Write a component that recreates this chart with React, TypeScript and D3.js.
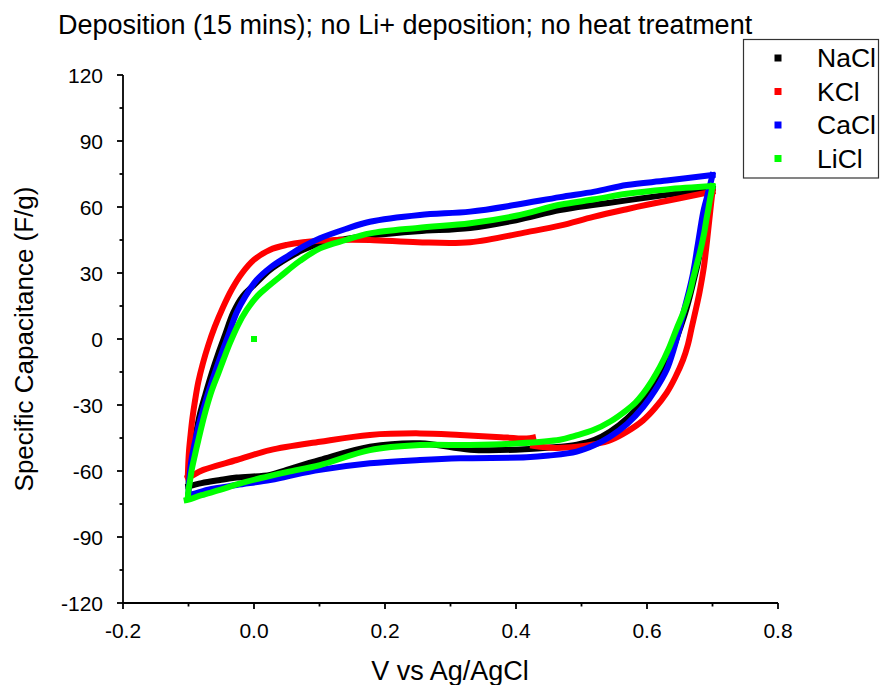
import React from "react";
import * as d3 from "d3";

type Pt = [number, number];

// ---- Data (V vs Ag/AgCl, Specific Capacitance F/g) ----
const naclUpper: Pt[] = [
  [-0.1, -67], [-0.0995, -63], [-0.098, -58], [-0.095, -52], [-0.0927, -49], [-0.088, -42],
  [-0.0824, -34], [-0.074, -25], [-0.0646, -15.6], [-0.055, -7], [-0.044, 2], [-0.0316, 12],
  [-0.017, 19.5], [0, 24.5], [0.0244, 31.4], [0.05, 36.5], [0.075, 40.5], [0.1008, 43.5],
  [0.14, 45.5], [0.177, 47], [0.25, 49], [0.33, 50.5], [0.4, 54], [0.467, 58.6], [0.52, 61],
  [0.569, 63], [0.63, 65.5], [0.7, 68.5],
];
const naclLower: Pt[] = [
  [0.7, 68.5], [0.698, 66], [0.696, 63], [0.6935, 59], [0.691, 55], [0.688, 50], [0.685, 45],
  [0.6815, 40], [0.678, 35], [0.6745, 30.5], [0.67, 25], [0.665, 19], [0.658, 11.5],
  [0.6495, 4], [0.639, -5], [0.626, -13.5], [0.611, -21], [0.5944, -28], [0.57, -36],
  [0.544, -42], [0.52, -45.8], [0.493, -48], [0.467, -49], [0.4, -50.3], [0.33, -50.3],
  [0.2534, -47.4], [0.177, -49], [0.1008, -55], [0.05, -59.5], [0.0244, -61.8],
  [-0.0265, -63], [-0.052, -64.1], [-0.08, -65.5], [-0.1, -67],
];

const kclUpper: Pt[] = [
  [-0.101, -62], [-0.0995, -52], [-0.097, -44], [-0.094, -36], [-0.09, -28], [-0.085, -19.5],
  [-0.078, -11], [-0.07, -3], [-0.06, 5.5], [-0.048, 14], [-0.034, 22.5], [-0.018, 30],
  [0, 36], [0.024, 40.5], [0.05, 42.8], [0.075, 44], [0.127, 45], [0.177, 45], [0.25, 44],
  [0.33, 44], [0.417, 48.6], [0.467, 51.5], [0.518, 55.5], [0.569, 59], [0.6, 61],
  [0.65, 64], [0.7, 67],
];
const kclLowerA: Pt[] = [
  [0.7, 67], [0.698, 62], [0.696, 56.5], [0.694, 51], [0.692, 45.5], [0.6895, 39],
  [0.687, 33], [0.684, 27.5], [0.68, 21], [0.675, 14], [0.6685, 5.5], [0.6625, -2.5],
  [0.655, -9.5], [0.643, -17.5], [0.63, -24.5], [0.612, -31.5], [0.594, -37], [0.57, -42],
  [0.544, -46], [0.52, -47.8], [0.493, -49], [0.46, -49.5], [0.426, -48.5],
];
const kclLowerB: Pt[] = [
  [0.426, -44.8], [0.4163, -45.2], [0.37, -44.5], [0.3145, -43.6], [0.2534, -42.9],
  [0.177, -43.6], [0.1008, -46.7], [0.0244, -50.5], [-0.0265, -55], [-0.0774, -59.5],
  [-0.0977, -62.6], [-0.101, -63],
];

const caclUpper: Pt[] = [
  [-0.1, -71], [-0.0993, -66], [-0.098, -61], [-0.095, -54], [-0.091, -48], [-0.085, -40],
  [-0.079, -33.5], [-0.07, -24.5], [-0.06, -15.5], [-0.05, -7], [-0.04, 1], [-0.0265, 12],
  [-0.013, 19.5], [0.004, 26.8], [0.025, 32.5], [0.05, 37.4], [0.075, 42], [0.1008, 45.8],
  [0.14, 50], [0.177, 53.3], [0.2534, 56.4], [0.33, 57.9], [0.4, 61], [0.467, 64.5],
  [0.52, 67], [0.569, 70], [0.63, 72], [0.7, 74.5],
];
const caclLower: Pt[] = [
  [0.7, 74.5], [0.698, 72], [0.6962, 70], [0.6935, 67], [0.6911, 63.9], [0.6885, 61],
  [0.686, 57.9], [0.683, 53], [0.6795, 46.5], [0.6765, 41], [0.6733, 35], [0.669, 28],
  [0.6635, 21], [0.657, 13.5], [0.6504, 5.6], [0.641, -4.5], [0.63, -14], [0.613, -23],
  [0.5944, -30.8], [0.57, -38.5], [0.5435, -44.4], [0.52, -48.2], [0.4927, -51.2],
  [0.45, -53], [0.4163, -53.8], [0.3145, -54.2], [0.2534, -55], [0.177, -56.5],
  [0.1008, -59.5], [0.05, -62.5], [0.0244, -64.1], [-0.0265, -66.4], [-0.07, -68.5],
  [-0.0977, -70.9], [-0.1, -71],
];

const liclUpper: Pt[] = [
  [-0.101, -72], [-0.1, -68.6], [-0.098, -65], [-0.0951, -59.5], [-0.09, -52.5],
  [-0.085, -46], [-0.079, -38.5], [-0.0723, -31], [-0.064, -23], [-0.0545, -15.6],
  [-0.0468, -9.5], [-0.037, -2], [-0.025, 6], [-0.0112, 13.2], [0.005, 19.5], [0.02, 23.5],
  [0.0397, 28.3], [0.07, 35.5], [0.1008, 41.2], [0.14, 45], [0.177, 48], [0.25, 50.5],
  [0.33, 52.6], [0.4, 56], [0.467, 61], [0.52, 63.5], [0.569, 66], [0.63, 68], [0.7, 69.5],
];
const liclLower: Pt[] = [
  [0.7, 69.5], [0.6985, 67], [0.6962, 63.5], [0.6936, 59], [0.6905, 54], [0.6875, 48.5],
  [0.684, 43.5], [0.6805, 39], [0.677, 35], [0.6735, 31], [0.67, 27], [0.6656, 21.5],
  [0.656, 12.5], [0.645, 4.5], [0.633, -4.5], [0.62, -12.6], [0.6075, -19], [0.5944, -24.7],
  [0.582, -29], [0.569, -32.3], [0.544, -37.5], [0.518, -41.4], [0.49, -44], [0.467, -45.8],
  [0.4, -47.5], [0.33, -48.2], [0.2534, -48.2], [0.177, -50.5], [0.1008, -57.3],
  [0.05, -60.5], [0.0092, -63.3], [-0.025, -66], [-0.052, -68.6], [-0.08, -71],
  [-0.1, -73], [-0.1028, -73.2],
];
const liclStart: Pt[] = [[0, 0]];

const seriesNames = ["NaCl", "KCl", "CaCl", "LiCl"];
const seriesColors = ["#000000", "#ff0000", "#0000ff", "#00ff00"];

const xTicks = [-0.2, 0.0, 0.2, 0.4, 0.6, 0.8];
const xMinorTicks = [-0.1, 0.1, 0.3, 0.5, 0.7];
const yTicks = [-120, -90, -60, -30, 0, 30, 60, 90, 120];
const yMinorTicks = [-105, -75, -45, -15, 15, 45, 75, 105];

const titleText = "Deposition (15 mins); no Li+ deposition; no heat treatment";
const xLabel = "V vs Ag/AgCl";
const yLabel = "Specific Capacitance (F/g)";

// ---- Layout ----
const W = 881;
const H = 685;
const x0 = 123, x1 = 778;
const yTop = 75, yBot = 603;
const FONT = "Arial, 'Liberation Sans', sans-serif";

export default function App() {
  const x = d3.scaleLinear().domain([-0.2, 0.8]).range([x0, x1]);
  const y = d3.scaleLinear().domain([-120, 120]).range([yBot, yTop]);
  const line = d3
    .line<Pt>()
    .x((d) => x(d[0]))
    .y((d) => y(d[1]))
    .curve(d3.curveCatmullRom.alpha(0.5));

  const groups: { color: string; paths: Pt[][] }[] = [
    { color: seriesColors[0], paths: [naclUpper, naclLower] },
    { color: seriesColors[1], paths: [kclUpper, kclLowerA, kclLowerB] },
    { color: seriesColors[2], paths: [caclUpper, caclLower] },
    { color: seriesColors[3], paths: [liclUpper, liclLower] },
  ];
  const MS = 6;

  return (
    <svg
      width={W}
      height={H}
      style={{ position: "absolute", left: 0, top: 0, background: "#fff" }}
      fontFamily={FONT}
    >
      <rect x={0} y={0} width={W} height={H} fill="#fff" />
      {/* data */}
      {groups.map((g, gi) => (
        <g key={gi}>
          {g.paths.map((p, pi) => (
            <path
              key={pi}
              d={line(p) || ""}
              fill="none"
              stroke={g.color}
              strokeWidth={MS}
              strokeLinejoin="miter"
              strokeLinecap="square"
            />
          ))}
        </g>
      ))}
      {liclStart.map((d, i) => (
        <rect
          key={i}
          x={x(d[0]) - MS / 2}
          y={y(d[1]) - MS / 2}
          width={MS}
          height={MS}
          fill={seriesColors[3]}
        />
      ))}

      {/* axes */}
      <line x1={x0} x2={x0} y1={yTop} y2={yBot + 1} stroke="#000" strokeWidth={1.8} />
      <line x1={x0 - 1} x2={x1} y1={yBot} y2={yBot} stroke="#000" strokeWidth={1.8} />
      {yTicks.map((t) => (
        <g key={t}>
          <line x1={x0 - 6} x2={x0} y1={y(t)} y2={y(t)} stroke="#000" strokeWidth={1.8} />
          <text x={103} y={y(t) + 7.5} textAnchor="end" fontSize={21}>
            {t}
          </text>
        </g>
      ))}
      {yMinorTicks.map((t) => (
        <line key={t} x1={x0 - 3.5} x2={x0} y1={y(t)} y2={y(t)} stroke="#000" strokeWidth={1.8} />
      ))}
      {xTicks.map((t) => (
        <g key={t}>
          <line x1={x(t)} x2={x(t)} y1={yBot} y2={yBot + 6} stroke="#000" strokeWidth={1.8} />
          <text x={x(t)} y={638} textAnchor="middle" fontSize={21}>
            {t.toFixed(1)}
          </text>
        </g>
      ))}
      {xMinorTicks.map((t) => (
        <line key={t} x1={x(t)} x2={x(t)} y1={yBot} y2={yBot + 3.5} stroke="#000" strokeWidth={1.8} />
      ))}

      {/* labels */}
      <text x={450} y={680} textAnchor="middle" fontSize={27}>
        {xLabel}
      </text>
      <text
        transform={`translate(33, ${(yTop + yBot) / 2}) rotate(-90)`}
        textAnchor="middle"
        fontSize={26}
      >
        {yLabel}
      </text>
      <text x={58} y={34} fontSize={27}>
        {titleText}
      </text>

      {/* legend */}
      <rect x={743.5} y={39.5} width={135} height={138.5} fill="#fff" stroke="#333" strokeWidth={1.2} />
      {seriesNames.map((n, i) => (
        <g key={n}>
          <rect x={778 - 3.5} y={58 + i * 33.5 - 3.5} width={7} height={7} fill={seriesColors[i]} />
          <text x={817} y={67 + i * 33.5} fontSize={26.5}>
            {n}
          </text>
        </g>
      ))}
    </svg>
  );
}
